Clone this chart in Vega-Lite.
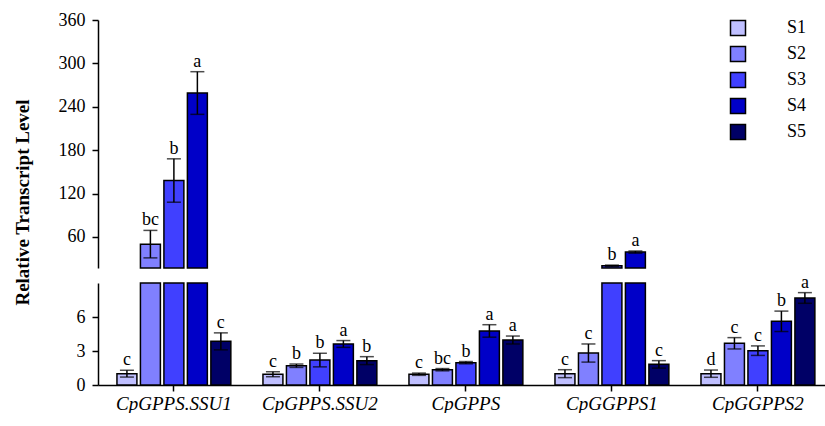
{
  "$schema": "https://vega.github.io/schema/vega-lite/v6.json",
  "padding": {"left": 13, "top": 11, "right": 0, "bottom": 0},
  "background": "white",
  "config": {
    "font": "Liberation Serif",
    "view": {"stroke": null},
    "axis": {"domainColor": "black", "domainWidth": 1.5, "tickColor": "black", "tickWidth": 1.5, "tickSize": 6, "labelColor": "black", "labelFont": "Liberation Serif", "grid": false, "titleColor": "black"}
  },
  "data": {"values": [
    {"gene": "CpGPPS.SSU1", "stage": "S1", "mean": 1.0, "err": 0.3, "letter": "c"},
    {"gene": "CpGPPS.SSU1", "stage": "S2", "mean": 50, "err": 19, "letter": "bc"},
    {"gene": "CpGPPS.SSU1", "stage": "S3", "mean": 138, "err": 30, "letter": "b"},
    {"gene": "CpGPPS.SSU1", "stage": "S4", "mean": 259, "err": 29.5, "letter": "a"},
    {"gene": "CpGPPS.SSU1", "stage": "S5", "mean": 3.85, "err": 0.75, "letter": "c"},
    {"gene": "CpGPPS.SSU2", "stage": "S1", "mean": 0.95, "err": 0.22, "letter": "c"},
    {"gene": "CpGPPS.SSU2", "stage": "S2", "mean": 1.7, "err": 0.15, "letter": "b"},
    {"gene": "CpGPPS.SSU2", "stage": "S3", "mean": 2.2, "err": 0.6, "letter": "b"},
    {"gene": "CpGPPS.SSU2", "stage": "S4", "mean": 3.62, "err": 0.3, "letter": "a"},
    {"gene": "CpGPPS.SSU2", "stage": "S5", "mean": 2.15, "err": 0.35, "letter": "b"},
    {"gene": "CpGPPS", "stage": "S1", "mean": 0.95, "err": 0.1, "letter": "c"},
    {"gene": "CpGPPS", "stage": "S2", "mean": 1.35, "err": 0.1, "letter": "bc"},
    {"gene": "CpGPPS", "stage": "S3", "mean": 1.97, "err": 0.1, "letter": "b"},
    {"gene": "CpGPPS", "stage": "S4", "mean": 4.77, "err": 0.55, "letter": "a"},
    {"gene": "CpGPPS", "stage": "S5", "mean": 3.97, "err": 0.35, "letter": "a"},
    {"gene": "CpGGPPS1", "stage": "S1", "mean": 1.0, "err": 0.35, "letter": "c"},
    {"gene": "CpGGPPS1", "stage": "S2", "mean": 2.82, "err": 0.8, "letter": "c"},
    {"gene": "CpGGPPS1", "stage": "S3", "mean": 20, "err": 1, "letter": "b"},
    {"gene": "CpGGPPS1", "stage": "S4", "mean": 39, "err": 1.5, "letter": "a"},
    {"gene": "CpGGPPS1", "stage": "S5", "mean": 1.82, "err": 0.33, "letter": "c"},
    {"gene": "CpGGPPS2", "stage": "S1", "mean": 1.0, "err": 0.32, "letter": "d"},
    {"gene": "CpGGPPS2", "stage": "S2", "mean": 3.68, "err": 0.5, "letter": "c"},
    {"gene": "CpGGPPS2", "stage": "S3", "mean": 3.03, "err": 0.42, "letter": "c"},
    {"gene": "CpGGPPS2", "stage": "S4", "mean": 5.62, "err": 0.9, "letter": "b"},
    {"gene": "CpGGPPS2", "stage": "S5", "mean": 7.68, "err": 0.47, "letter": "a"}
  ]},
  "transform": [{"calculate": "datum.mean + datum.err", "as": "hi"}],
  "spacing": 15,
  "bounds": "flush",
  "resolve": {"scale": {"color": "independent", "x": "independent", "y": "independent"}},
  "vconcat": [
    {
      "width": 728,
      "height": 248,
      "transform": [{"filter": "datum.mean > 17"}],
      "encoding": {
        "x": {"field": "gene", "type": "nominal", "sort": ["CpGPPS.SSU1", "CpGPPS.SSU2", "CpGPPS", "CpGGPPS1", "CpGGPPS2"], "scale": {"domain": ["CpGPPS.SSU1", "CpGPPS.SSU2", "CpGPPS", "CpGGPPS1", "CpGGPPS2"], "paddingInner": 0.22, "paddingOuter": 0.103, "align": 0.63}, "axis": null},
        "xOffset": {"field": "stage", "type": "nominal", "scale": {"domain": ["S1", "S2", "S3", "S4", "S5"], "paddingInner": 0.15, "paddingOuter": 0}}
      },
      "layer": [
        {
          "mark": {"type": "bar", "stroke": "black", "strokeWidth": 1.5},
          "encoding": {
            "y": {"field": "mean", "type": "quantitative", "title": "Relative Transcript Level", "scale": {"domain": [17, 360], "nice": false, "zero": false},
              "axis": {"values": [60, 120, 180, 240, 300, 360], "labelFontSize": 18, "labelPadding": 7, "titleFontSize": 19, "titleFontWeight": "bold", "titleFont": "Liberation Serif", "titleY": 182, "titlePadding": 26}},
            "y2": {"datum": 17},
            "color": {"field": "stage", "type": "nominal", "scale": {"domain": ["S1", "S2", "S3", "S4", "S5"], "range": ["#BFBFFF", "#8080FF", "#4040FF", "#0000C8", "#000066"]},
              "legend": {"title": null, "orient": "none", "legendX": 631, "legendY": -1, "symbolType": "square", "symbolSize": 225, "symbolStrokeColor": "black", "symbolStrokeWidth": 1.5, "labelFontSize": 18, "labelFont": "Liberation Serif", "labelOffset": 40, "rowPadding": 4, "padding": 0, "labelColor": "black"}}
          }
        },
        {
          "mark": {"type": "errorbar", "ticks": {"size": 14, "thickness": 1.5, "color": "black"}, "rule": {"strokeWidth": 1.5, "color": "black"}},
          "encoding": {"y": {"field": "mean", "type": "quantitative", "title": "Relative Transcript Level"}, "yError": {"field": "err"}}
        },
        {
          "mark": {"type": "text", "dy": -5, "baseline": "alphabetic", "fontSize": 18, "color": "black"},
          "encoding": {"y": {"field": "hi", "type": "quantitative", "title": "Relative Transcript Level"}, "text": {"field": "letter"}}
        }
      ]
    },
    {
      "width": 728,
      "height": 102,
      "encoding": {
        "x": {"field": "gene", "type": "nominal", "sort": ["CpGPPS.SSU1", "CpGPPS.SSU2", "CpGPPS", "CpGGPPS1", "CpGGPPS2"], "scale": {"domain": ["CpGPPS.SSU1", "CpGPPS.SSU2", "CpGPPS", "CpGGPPS1", "CpGGPPS2"], "paddingInner": 0.22, "paddingOuter": 0.103, "align": 0.63},
          "axis": {"title": null, "labelAngle": 0, "labelFontSize": 19, "labelFontStyle": "italic", "labelPadding": 3}},
        "xOffset": {"field": "stage", "type": "nominal", "scale": {"domain": ["S1", "S2", "S3", "S4", "S5"], "paddingInner": 0.15, "paddingOuter": 0}}
      },
      "layer": [
        {
          "mark": {"type": "bar", "stroke": "black", "strokeWidth": 1.5},
          "encoding": {
            "y": {"field": "mean", "type": "quantitative", "title": null, "scale": {"domain": [0, 9], "nice": false, "clamp": true},
              "axis": {"values": [0, 3, 6], "labelFontSize": 18, "labelPadding": 7, "title": null}},
            "color": {"field": "stage", "type": "nominal", "scale": {"domain": ["S1", "S2", "S3", "S4", "S5"], "range": ["#BFBFFF", "#8080FF", "#4040FF", "#0000C8", "#000066"]}, "legend": null}
          }
        },
        {
          "transform": [{"filter": "datum.mean < 9"}],
          "mark": {"type": "errorbar", "ticks": {"size": 14, "thickness": 1.5, "color": "black"}, "rule": {"strokeWidth": 1.5, "color": "black"}},
          "encoding": {"y": {"field": "mean", "type": "quantitative", "title": null}, "yError": {"field": "err"}}
        },
        {
          "transform": [{"filter": "datum.mean < 9"}],
          "mark": {"type": "text", "dy": -5, "baseline": "alphabetic", "fontSize": 18, "color": "black"},
          "encoding": {"y": {"field": "hi", "type": "quantitative", "title": null}, "text": {"field": "letter"}}
        }
      ]
    }
  ]
}
